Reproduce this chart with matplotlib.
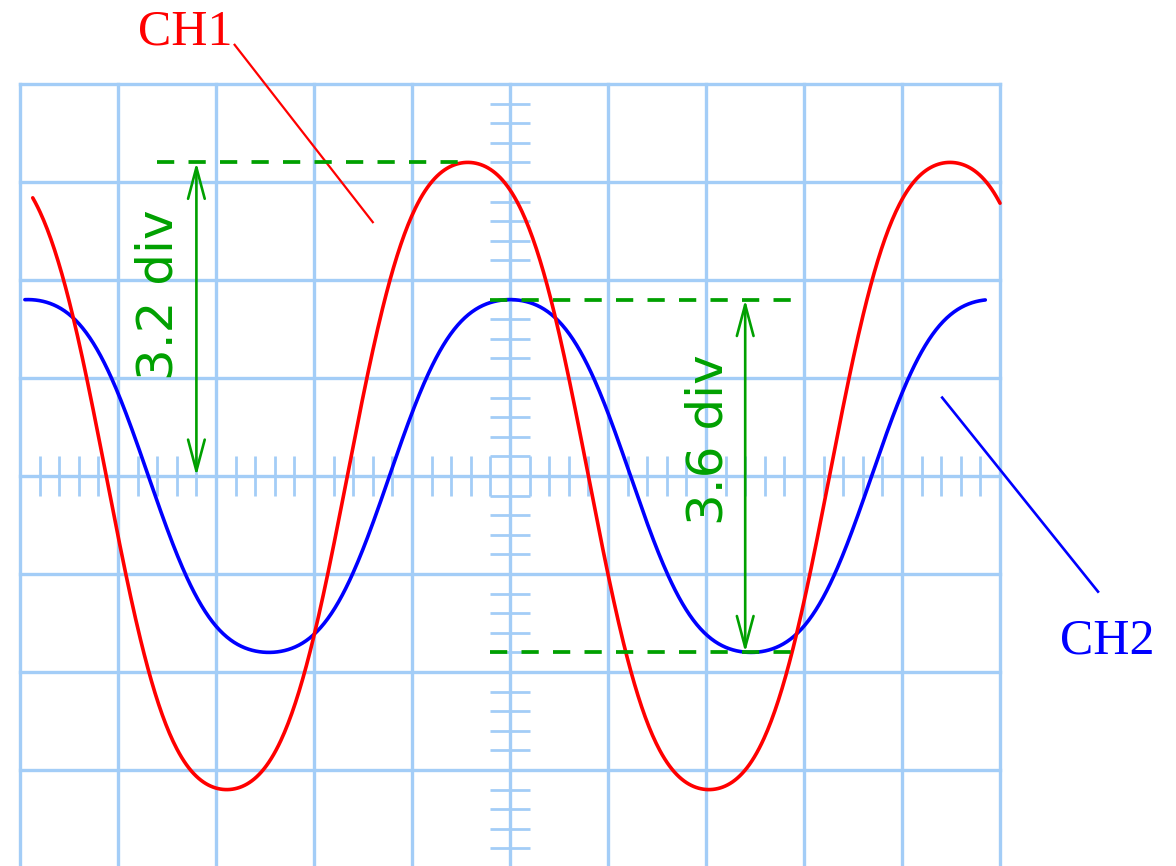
import numpy as np
import matplotlib.pyplot as plt
from matplotlib.patches import FancyArrowPatch

# screen: 10 x 8 divisions, origin at screen centre
n_div_x, n_div_y = 10, 8

# channel settings (divisions)
ch1_amplitude = 3.2       # peak, from centre line
ch2_peak_to_peak = 3.6
period = 4.92
ch1_peak_at = -0.43
ch2_peak_at = 0.0
third_harmonic = 0.06     # slight flattening of the crests
ch1_span = (-4.87, 5.0)
ch2_span = (-4.95, 4.85)

ch1_label = "CH1"
ch2_label = "CH2"
ch1_meas = "3.2 div"
ch2_meas = "3.6 div"

grid_col = '#a3cdf7'
green = '#00a000'


def trace(amp, peak_at, span):
    t = np.linspace(span[0], span[1], 800)
    th = 2 * np.pi * (t - peak_at) / period
    y = amp * (np.cos(th) - third_harmonic * np.cos(3 * th)) / (1 - third_harmonic)
    return t, y


fig = plt.figure(figsize=(11.76, 8.66), dpi=100)
ax = fig.add_axes([0, 0, 1, 1])
ax.set_xlim(-510 / 98, 666 / 98)
ax.set_ylim(-390 / 98, 476 / 98)
ax.axis('off')

# graticule
hx, hy = n_div_x / 2, n_div_y / 2
for gx in np.arange(-hx, hx + 1):
    ax.plot([gx, gx], [-hy, hy], color=grid_col, lw=2.4, zorder=1)
for gy in np.arange(-hy, hy + 1):
    ax.plot([-hx, hx], [gy, gy], color=grid_col, lw=2.4, zorder=1)

# minor ticks on the centre lines
tx = np.arange(-hx, hx + 0.01, 0.2)
ty = np.arange(-hy, hy + 0.01, 0.2)
ax.vlines(tx, -0.2, 0.2, color=grid_col, lw=2.0, zorder=1)
ax.hlines(ty, -0.2, 0.2, color=grid_col, lw=2.0, zorder=1)

# traces
x2, y2 = trace(ch2_peak_to_peak / 2, ch2_peak_at, ch2_span)
ax.plot(x2, y2, color='#0000ff', lw=2.6, zorder=3, solid_capstyle='round')
x1, y1 = trace(ch1_amplitude, ch1_peak_at, ch1_span)
ax.plot(x1, y1, color='#ff0000', lw=2.6, zorder=4, solid_capstyle='round')

# measurement helpers
dash = (0, (4.6, 3.8))
ax.plot([-3.6, ch1_peak_at], [ch1_amplitude] * 2, color=green, lw=2.7, ls=dash, zorder=5)
half = ch2_peak_to_peak / 2
ax.plot([-0.2, 3.0], [half, half], color=green, lw=2.7, ls=dash, zorder=5)
ax.plot([-0.2, 3.0], [-half, -half], color=green, lw=2.7, ls=dash, zorder=5)

for xa, ya, yb in [(-3.2, ch1_amplitude, 0), (2.4, half, -half)]:
    arr = FancyArrowPatch((xa, ya), (xa, yb),
                          arrowstyle='<->,head_length=1.5,head_width=0.4',
                          mutation_scale=15, color=green, lw=1.9,
                          shrinkA=0, shrinkB=0, zorder=6)
    ax.add_patch(arr)

ax.text(-3.59, 1.85, ch1_meas, rotation=90, ha='center', va='center',
        color=green, fontsize=36, family='DejaVu Sans', zorder=6)
ax.text(2.03, 0.37, ch2_meas, rotation=90, ha='center', va='center',
        color=green, fontsize=36, family='DejaVu Sans', zorder=6)

# channel labels with leaders
ax.text(-3.80, 4.40, ch1_label, color='#ff0000', fontsize=36,
        family='Liberation Serif', ha='left', va='baseline')
ax.plot([-2.81, -1.40], [4.40, 2.59], color='#ff0000', lw=1.6)
ax.text(5.61, -1.81, ch2_label, color='#0000ff', fontsize=36,
        family='Liberation Serif', ha='left', va='baseline')
ax.plot([4.41, 6.0], [0.80, -1.18], color='#0000ff', lw=1.9)

fig.savefig('out.png', dpi=100)
